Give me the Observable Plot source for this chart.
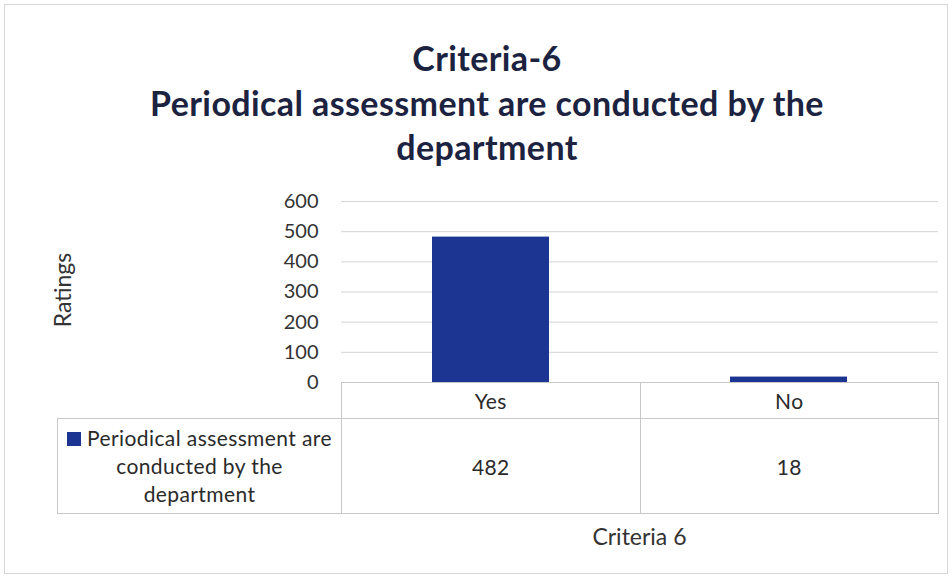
<!DOCTYPE html>
<html><head><meta charset="utf-8">
<script src="https://cdn.jsdelivr.net/npm/d3@7"></script>
<script src="https://cdn.jsdelivr.net/npm/@observablehq/plot@0.6"></script>
<style>
body{margin:0;background:#fff;font-family:Lato,"Open Sans",sans-serif;}
#wrap{position:relative;width:952px;height:578px;overflow:hidden;background:#fff}
#frame{position:absolute;left:4px;top:4px;width:944px;height:570px;border:1px solid #d6d6d6;box-sizing:border-box}
#title{position:absolute;left:22px;width:930px;top:36px;text-align:center;font-weight:bold;font-size:34px;letter-spacing:0.4px;line-height:44.5px;color:#1c2340}
#chart{position:absolute;left:0;top:190px}
#ylab{position:absolute;left:62px;top:290px;transform:translate(-50%,-50%) rotate(-90deg);font-size:23px;color:#333;white-space:nowrap}
#tbl{position:absolute;top:382px;border-collapse:collapse;table-layout:fixed;font-size:21px;letter-spacing:0.4px;color:#2a2a2a}
#tbl td{border:1px solid #c8c8c8;text-align:center;padding:0;vertical-align:middle}
#tbl td.blank{border-top:none;border-left:none}
#tbl td.leg{line-height:28px}
.sw{display:inline-block;width:14px;height:14px;margin-right:6px;vertical-align:0px}
#xlab{position:absolute;top:522px;font-size:23px;color:#333;text-align:center}
</style></head>
<body><div id="wrap"><div id="frame"></div><div id="title"></div><div id="chart"></div><div id="ylab"></div><div id="xlab"></div></div>
<script>
const titleLines = ["Criteria-6","Periodical assessment are conducted by the","department"];
const categories = ["Yes","No"];
const values = [482,18];
const seriesName = "Periodical assessment are conducted by the department";
const seriesLines = ["Periodical assessment are","conducted by the","department"];
const yTicks = [0,100,200,300,400,500,600];
const yLabel = "Ratings";
const xLabel = "Criteria 6";
const barColor = "#1c3593";

const data = categories.map((c,i)=>({category:c, value:values[i]}));

document.getElementById("title").innerHTML = titleLines.map(t=>`<div>${t}</div>`).join("");
document.getElementById("ylab").textContent = yLabel;

const chart = Plot.plot({
  width:952, height:205, marginTop:11, marginBottom:13, marginLeft:341, marginRight:14,
  x:{domain:categories, paddingInner:0.608, paddingOuter:0.304, axis:null},
  y:{domain:[0,600]},
  style:{fontFamily:"Lato, 'Open Sans', sans-serif", fontSize:"20px", color:"#333", background:"transparent", overflow:"visible"},
  marks:[
    Plot.gridY(yTicks.filter(d=>d>0), {stroke:"#d4d4d4", strokeOpacity:1}),
    Plot.axisY(yTicks, {tickSize:0, tickPadding:23, label:null}),
    Plot.barY(data,{x:"category", y:"value", fill:barColor}),
    Plot.ruleY([0], {stroke:"#c8c8c8"})
  ]
});
document.getElementById("chart").appendChild(chart);

const xs = chart.scale("x");
const r0 = xs.range[0], r1 = xs.range[1];
const step = (r1 - r0)/categories.length;
const legLeft = 57;
const tbl = document.createElement("table");
tbl.id = "tbl";
tbl.style.left = legLeft + "px";
tbl.style.width = (r1 - legLeft) + "px";
let html = `<colgroup><col style="width:${r0-legLeft}px">` + categories.map(()=>`<col style="width:${step}px">`).join("") + `</colgroup>`;
html += `<tr style="height:36px"><td class="blank"></td>` + categories.map(c=>`<td>${c}</td>`).join("") + `</tr>`;
html += `<tr style="height:95px"><td class="leg"><span class="sw" style="background:${barColor}"></span>${seriesLines.join("<br>")}</td>` + values.map(v=>`<td>${v}</td>`).join("") + `</tr>`;
tbl.innerHTML = html;
document.getElementById("wrap").appendChild(tbl);

const xl = document.getElementById("xlab");
xl.textContent = xLabel;
xl.style.left = r0 + "px";
xl.style.width = (r1 - r0) + "px";
</script></body></html>
